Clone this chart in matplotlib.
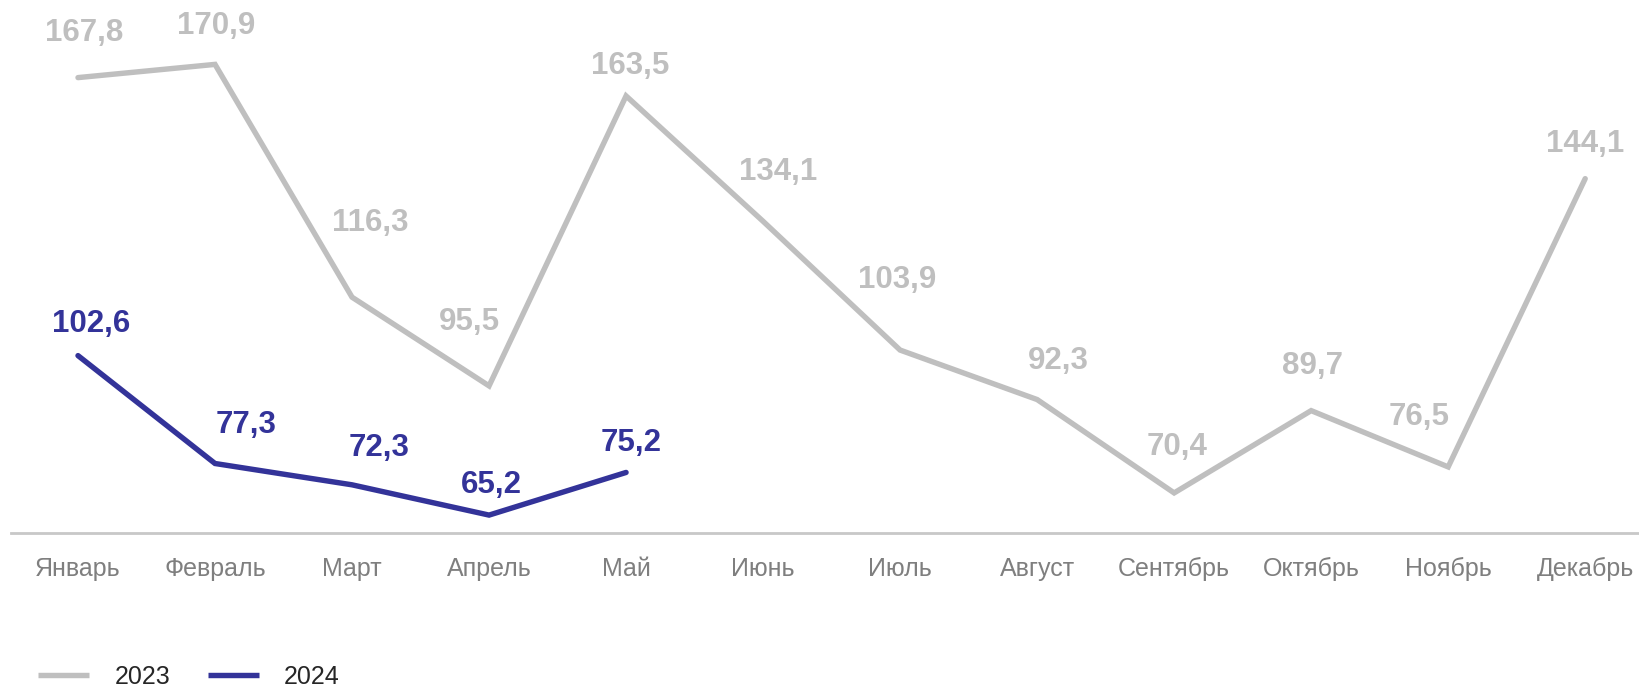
import matplotlib.pyplot as plt

plt.rcParams['font.family'] = ['Liberation Sans', 'DejaVu Sans']

# data
months = ['Январь', 'Февраль', 'Март', 'Апрель', 'Май', 'Июнь', 'Июль',
          'Август', 'Сентябрь', 'Октябрь', 'Ноябрь', 'Декабрь']
values_2023 = [167.8, 170.9, 116.3, 95.5, 163.5, 134.1, 103.9, 92.3, 70.4, 89.7, 76.5, 144.1]
values_2024 = [102.6, 77.3, 72.3, 65.2, 75.2]

# label offsets in pixels (dx, dy) from each point
offs_2023 = [(6, 45), (1, 38), (18, 74), (-20, 64), (4, 30), (15, 49),
             (-3, 70), (21, 39), (3, 46), (1, 45), (-29, 50), (0, 35)]
offs_2024 = [(13, 32), (31, 38), (27, 37), (2, 30), (5, 29)]

gray = '#BFBFBF'
blue = '#333399'

fig = plt.figure(figsize=(16.4, 6.88), dpi=100)
ax = fig.add_axes([11 / 1640, 155 / 688, 1 - 11 / 1640, 1 - 155 / 688])

x23 = list(range(len(values_2023)))
x24 = list(range(len(values_2024)))
ax.plot(x23, values_2023, color=gray, lw=3.9, label='2023', solid_capstyle='round', solid_joinstyle='miter')
ax.plot(x24, values_2024, color=blue, lw=3.9, label='2024', solid_capstyle='round', solid_joinstyle='miter')

for i, v in enumerate(values_2023):
    dx, dy = offs_2023[i]
    ax.annotate(f'{v:.1f}'.replace('.', ','), (i, v), xytext=(dx, dy),
                textcoords='offset pixels', ha='center', va='center',
                fontsize=22.5, fontweight='bold', color=gray, annotation_clip=False)
for i, v in enumerate(values_2024):
    dx, dy = offs_2024[i]
    ax.annotate(f'{v:.1f}'.replace('.', ','), (i, v), xytext=(dx, dy),
                textcoords='offset pixels', ha='center', va='center',
                fontsize=22.5, fontweight='bold', color=blue, annotation_clip=False)

ax.set_xlim(-0.489, 11.4)
ax.set_ylim(61.0, 186.0)
ax.set_xticks(x23)
ax.set_xticklabels(months, fontsize=18, color='#7F7F7F')
ax.set_yticks([])
ax.tick_params(axis='x', length=0, pad=17)
for s in ['top', 'left', 'right']:
    ax.spines[s].set_visible(False)
ax.spines['bottom'].set_color('#C8C8C8')
ax.spines['bottom'].set_linewidth(2)

leg = fig.legend(loc='center left', bbox_to_anchor=(38 / 1640, 1 - 677 / 688), ncol=2,
                 frameon=False, fontsize=18, handlelength=2.05, handletextpad=1.0,
                 columnspacing=1.5, borderpad=0, borderaxespad=0, labelcolor='#262626')
for h in leg.get_lines():
    h.set_solid_capstyle('butt')

fig.savefig('out.png', dpi=100)
